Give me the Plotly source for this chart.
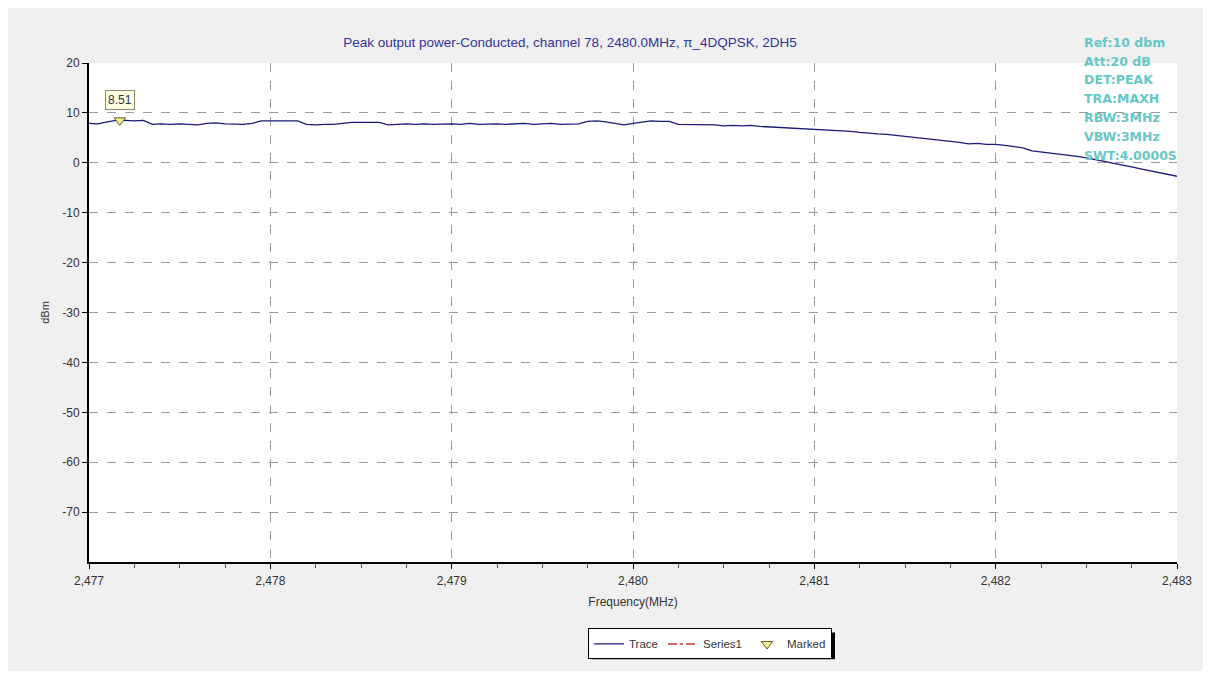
import plotly.graph_objects as go

# ==================== DATA ====================
F_START = 2477.0   # MHz, first sweep point
F_STEP = 0.05      # MHz between sweep points

# Trace level (dBm), one value per sweep point
TRACE_DBM = [
    7.9, 7.8, 8.2, 8.5, 8.5, 8.4, 8.5, 7.7, 7.8, 7.7,
    7.8, 7.7, 7.6, 7.9, 8.0, 7.8, 7.8, 7.7, 7.9, 8.4,
    8.4, 8.4, 8.4, 8.4, 7.7, 7.6, 7.7, 7.7, 7.9, 8.1,
    8.1, 8.1, 8.1, 7.6, 7.7, 7.8, 7.7, 7.8, 7.7, 7.8,
    7.8, 7.7, 7.9, 7.7, 7.8, 7.8, 7.7, 7.8, 7.9, 7.7,
    7.8, 7.9, 7.7, 7.7, 7.8, 8.3, 8.4, 8.2, 7.9, 7.6,
    7.9, 8.2, 8.4, 8.3, 8.3, 7.7, 7.7, 7.6, 7.7, 7.6,
    7.4, 7.5, 7.4, 7.5, 7.3, 7.2, 7.1, 7.0, 7.0, 6.9,
    6.8, 6.6, 6.5, 6.4, 6.3, 6.1, 5.9, 5.8, 5.7, 5.5,
    5.4, 5.2, 5.0, 4.8, 4.6, 4.4, 4.1, 3.8, 3.9, 3.7,
    3.7, 3.5, 3.3, 3.0, 2.4, 2.2, 2.0, 1.8, 1.5, 1.3,
    1.0, 0.7, 0.3, -0.1, -0.4, -0.8, -1.2, -1.6, -2.0, -2.4,
    -2.7,
]

MARKER_FREQ = [2477.17]
MARKER_DBM = [8.51]

X_TICKS = [2477, 2478, 2479, 2480, 2481, 2482, 2483]
X_TICK_TEXT = ["2,477", "2,478", "2,479", "2,480", "2,481", "2,482", "2,483"]
Y_TICKS = [-70, -60, -50, -40, -30, -20, -10, 0, 10, 20]
Y_TICK_TEXT = ["-70", "-60", "-50", "-40", "-30", "-20", "-10", "0", "10", "20"]

INFO_LINES = ["Ref:10 dbm", "Att:20 dB", "DET:PEAK", "TRA:MAXH",
              "RBW:3MHz", "VBW:3MHz", "SWT:4.0000S"]

TITLE = "Peak output power-Conducted, channel 78, 2480.0MHz, \u03c0_4DQPSK, 2DH5"

# ==================== LAYOUT HELPERS ====================
# page has an 8px body margin, so the figure sits at (8, 8)
OFF = 8
W, H = 1195, 663
ML, MR, MT, MB = 81, 26, 55, 105
PW, PH = W - ML - MR, H - MT - MB
FONT = "Liberation Sans, Arial, sans-serif"
BG_GRAY = "#f0f0f0"
INFO_COLOR = "#66c7c7"


def px2x(px):
    """page pixel x -> paper x"""
    return (px - OFF - ML) / PW


def py2y(py):
    """page pixel y -> paper y"""
    return (H - MB - (py - OFF)) / PH


fig = go.Figure()

fig.add_trace(go.Scatter(
    x0=F_START, dx=F_STEP, y=TRACE_DBM,
    mode="lines", name="Trace",
    line=dict(color="#1a1a78", width=1.3),
))
fig.add_trace(go.Scatter(
    x=[None], y=[None], mode="lines", name="Series1",
    line=dict(color="#d03030", width=1.5, dash="dashdot"),
))
fig.add_trace(go.Scatter(
    x=MARKER_FREQ, y=MARKER_DBM, mode="markers", name="Marked",
    marker=dict(symbol="triangle-down", size=10, color="#f4ee8a",
                line=dict(color="#5a5a30", width=1)),
))

# marker readout box
fig.add_annotation(
    x=MARKER_FREQ[0], y=MARKER_DBM[0], text=f"{MARKER_DBM[0]:.2f}",
    showarrow=False, yshift=20, bgcolor="#ffffe4", bordercolor="#8a8a70",
    borderwidth=1, borderpad=2, font=dict(family=FONT, size=12, color="#333333"),
)

# analyzer settings on the right
for i, line in enumerate(INFO_LINES):
    fig.add_annotation(
        xref="paper", yref="paper", x=px2x(1082), y=py2y(42 + i * 19),
        xanchor="left", yanchor="middle", showarrow=False, text=line,
        font=dict(family="DejaVu Sans, sans-serif", size=12.5, color=INFO_COLOR,
                  weight="bold"),
    )

# drop shadow behind the legend box
fig.add_shape(
    type="rect", xref="paper", yref="paper", layer="above",
    x0=px2x(592), x1=px2x(835), y0=py2y(664), y1=py2y(637),
    fillcolor="black", line=dict(width=0),
)

fig.update_layout(
    width=W, height=H,
    margin=dict(l=ML, r=MR, t=MT, b=MB),
    paper_bgcolor=BG_GRAY, plot_bgcolor="white",
    font=dict(family=FONT, size=12, color="#333333"),
    title=dict(text=TITLE, x=(570 - OFF) / W, xanchor="center", xref="container",
               y=1 - (42 - OFF) / H, yanchor="middle", yref="container",
               font=dict(family=FONT, size=13.5, color="#33339a")),
    xaxis=dict(
        range=[2477, 2483], tickvals=X_TICKS, ticktext=X_TICK_TEXT,
        showgrid=True, gridcolor="#9a9a9a", griddash="dash", gridwidth=1,
        showline=True, linecolor="black", linewidth=2, mirror=False,
        ticks="outside", ticklen=5, tickcolor="black", ticklabelstandoff=2,
        minor=dict(dtick=0.25, ticks="outside", ticklen=4, tickcolor="#555555",
                   showgrid=False),
        zeroline=False,
        title=dict(text="Frequency(MHz)", standoff=10,
                   font=dict(family=FONT, size=12, color="#333333")),
    ),
    yaxis=dict(
        range=[-80, 20], tickvals=Y_TICKS, ticktext=Y_TICK_TEXT,
        showgrid=True, gridcolor="#9a9a9a", griddash="dash", gridwidth=1,
        showline=True, linecolor="black", linewidth=2,
        ticks="outside", ticklen=5, tickcolor="black",
        zeroline=False,
        title=dict(text="dBm", standoff=10,
                   font=dict(family=FONT, size=11, color="#333333")),
    ),
    showlegend=True,
    legend=dict(
        orientation="h", x=px2x(710), xanchor="center", y=py2y(633), yanchor="top",
        bgcolor="white", bordercolor="black", borderwidth=1,
        font=dict(family=FONT, size=11.5, color="#333333"),
        itemwidth=30, tracegroupgap=0,
    ),
)

fig.write_html("out.html")
